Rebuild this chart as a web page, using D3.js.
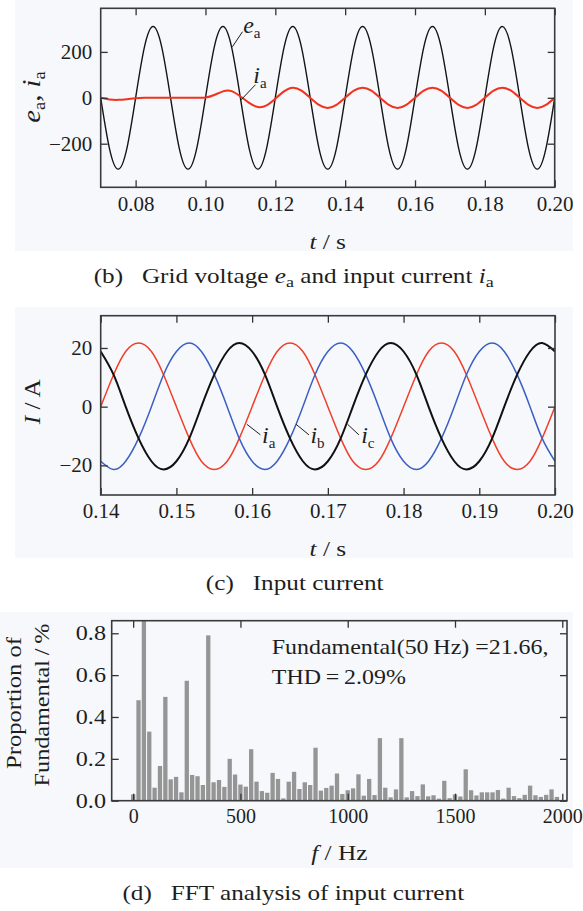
<!DOCTYPE html>
<html>
<head>
<meta charset="utf-8">
<title>Grid voltage, input current and FFT</title>
<script src="https://cdn.jsdelivr.net/npm/d3@7/dist/d3.min.js"></script>
<style>
  body { margin: 0; background: #fff; }
  svg { display: block; }
  text { font-family: "Liberation Serif", "Times New Roman", serif; fill: #1e1e1e; white-space: pre; }
  .tick line { stroke: #333; stroke-width: 1.3; }
  .frame { fill: none; stroke: #3a3a3a; stroke-width: 1.6; }
  .bg { fill: #f6f8fb; }
  .leader { stroke: #1e1e1e; stroke-width: 1; }
</style>
</head>
<body>
<svg id="fig" width="583" height="911"></svg>
<script>
var timeB = [0.07, 0.0725, 0.075, 0.0775, 0.08, 0.0825, 0.085, 0.0875,
  0.09, 0.0925, 0.095, 0.0975, 0.1, 0.1025, 0.105, 0.1075,
  0.11, 0.1125, 0.115, 0.1175, 0.12, 0.1225, 0.125, 0.1275,
  0.13, 0.1325, 0.135, 0.1375, 0.14, 0.1425, 0.145, 0.1475,
  0.15, 0.1525, 0.155, 0.1575, 0.16, 0.1625, 0.165, 0.1675,
  0.17, 0.1725, 0.175, 0.1775, 0.18, 0.1825, 0.185, 0.1875,
  0.19, 0.1925, 0.195, 0.1975, 0.2];
var voltageA = [0, -220, -311, -220, 0, 220, 311, 220,
  0, -220, -311, -220, 0, 220, 311, 220,
  0, -220, -311, -220, 0, 220, 311, 220,
  0, -220, -311, -220, 0, 220, 311, 220,
  0, -220, -311, -220, 0, 220, 311, 220,
  0, -220, -311, -220, 0, 220, 311, 220,
  0, -220, -311, -220, 0];
var currentStart = [0, -7, -9, -6, -2, 0, 0, 0,
  0, 0, 0, 0, 1, 12, 28, 29,
  6, -22, -40, -33, -4, 28, 44, 31,
  0, -31, -44, -31, 0, 31, 44, 31,
  0, -31, -44, -31, 0, 31, 44, 31,
  0, -31, -44, -31, 0, 31, 44, 31,
  0, -31, -44, -31, 0];

var timeC = [0.14, 0.1417, 0.1433, 0.145, 0.1467, 0.1483,
  0.15, 0.1517, 0.1533, 0.155, 0.1567, 0.1583,
  0.16, 0.1617, 0.1633, 0.165, 0.1667, 0.1683,
  0.17, 0.1717, 0.1733, 0.175, 0.1767, 0.1783,
  0.18, 0.1817, 0.1833, 0.185, 0.1867, 0.1883,
  0.19, 0.1917, 0.1933, 0.195, 0.1967, 0.1983,
  0.2];
var currentA = [0, 10.9, 18.8, 21.7, 18.8, 10.9, 0, -10.8, -18.6, -21.4, -18.6, -10.8,
  0, 10.9, 18.8, 21.7, 18.8, 10.9, 0, -10.8, -18.6, -21.4, -18.6, -10.8,
  0, 10.9, 18.8, 21.7, 18.8, 10.9, 0, -10.8, -18.6, -21.4, -18.6, -10.8,
  0];
var currentB = [-18.6, -21.4, -18.6, -10.8, 0, 10.9, 18.8, 21.7, 18.8, 10.9, 0, -10.8,
  -18.6, -21.4, -18.6, -10.8, 0, 10.9, 18.8, 21.7, 18.8, 10.9, 0, -10.8,
  -18.6, -21.4, -18.6, -10.8, 0, 10.9, 18.8, 21.7, 18.8, 10.9, 0, -10.8,
  -18.6];
var currentC = [18.8, 10.9, 0, -10.8, -18.6, -21.4, -18.6, -10.8, 0, 10.9, 18.8, 21.7,
  18.8, 10.9, 0, -10.8, -18.6, -21.4, -18.6, -10.8, 0, 10.9, 18.8, 21.7,
  18.8, 10.9, 0, -10.8, -18.6, -21.4, -18.6, -10.8, 0, 10.9, 18.8, 21.7,
  18.8];

// (d) FFT of input current, proportion of fundamental in %
var harmonicFreq = [0, 25, 50, 75, 100, 125, 150, 175, 200, 225,
  250, 275, 300, 325, 350, 375, 400, 425, 450, 475,
  500, 525, 550, 575, 600, 625, 650, 675, 700, 725,
  750, 775, 800, 825, 850, 875, 900, 925, 950, 975,
  1000, 1025, 1050, 1075, 1100, 1125, 1150, 1175, 1200, 1225,
  1250, 1275, 1300, 1325, 1350, 1375, 1400, 1425, 1450, 1475,
  1500, 1525, 1550, 1575, 1600, 1625, 1650, 1675, 1700, 1725,
  1750, 1775, 1800, 1825, 1850, 1875, 1900, 1925, 1950, 1975];
var harmonicPct = [0.03, 0.48, 100, 0.33, 0.062, 0.166, 0.496, 0.102, 0.114, 0.04,
  0.573, 0.123, 0.117, 0.075, 0.79, 0.088, 0.099, 0.066, 0.2, 0.125,
  0.077, 0.067, 0.246, 0.091, 0.046, 0.038, 0.133, 0.104, 0.011, 0.091,
  0.138, 0.056, 0.088, 0.075, 0.253, 0.048, 0.061, 0.072, 0.13, 0.032,
  0.05, 0.059, 0.126, 0.024, 0.104, 0.027, 0.299, 0.062, 0.016, 0.054,
  0.299, 0.016, 0.046, 0.022, 0.078, 0.021, 0.026, 0.01, 0.095, 0.012,
  0.03, 0.02, 0.15, 0.05, 0.025, 0.04, 0.04, 0.04, 0.051, 0.01,
  0.062, 0.022, 0.012, 0.028, 0.072, 0.026, 0.018, 0.028, 0.054, 0.018];

var ticksBx = [0.08, 0.10, 0.12, 0.14, 0.16, 0.18, 0.20];
var ticksBy = [-200, 0, 200];
var ticksCx = [0.14, 0.15, 0.16, 0.17, 0.18, 0.19, 0.20];
var ticksCy = [-20, 0, 20];
var ticksDx = [0, 500, 1000, 1500, 2000];
var ticksDy = [0, 0.2, 0.4, 0.6, 0.8];

var svg = d3.select('#fig');
var defs = svg.append('defs');

// text that is a bit wider than plain Times, like the scanned figure
function label(parent, x, y, size, sx, rotate) {
  return parent.append('text')
    .attr('transform', 'translate(' + x + ',' + y + ')' + (rotate ? ' rotate(-90)' : '') +
      ' scale(' + sx + ',1)')
    .style('font-size', size + 'px');
}

// parts: {s: string, it: italic, sub: subscript}
function rich(text, parts, subSize, shift) {
  var down = false;
  parts.forEach(function(p) {
    var ts = text.append('tspan').text(p.s);
    if (p.it) ts.style('font-style', 'italic');
    if (p.sub) {
      ts.attr('dy', shift).style('font-size', subSize + 'px');
      down = true;
    } else if (down) {
      ts.attr('dy', -shift);
      down = false;
    }
  });
  return text;
}

function clipTo(id, x, y) {
  defs.append('clipPath').attr('id', id).append('rect')
    .attr('x', x.range()[0]).attr('y', y.range()[1])
    .attr('width', x.range()[1] - x.range()[0])
    .attr('height', y.range()[0] - y.range()[1]);
}

function axes(g, x, y, xt, yt, xf, yf, o) {
  var x0 = x.range()[0], x1 = x.range()[1], y0 = y.range()[0], y1 = y.range()[1];
  var bottom = g.append('g').attr('transform', 'translate(0,' + y0 + ')')
    .call(d3.axisBottom(x).tickValues(xt).tickFormat(xf)
      .tickSizeInner(-7).tickSizeOuter(0).tickPadding(o.xPad));
  g.append('g').attr('transform', 'translate(0,' + y1 + ')')
    .call(d3.axisTop(x).tickValues(xt).tickFormat('').tickSizeInner(-7).tickSizeOuter(0));
  var left = g.append('g').attr('transform', 'translate(' + x0 + ',0)')
    .call(d3.axisLeft(y).tickValues(yt).tickFormat(yf)
      .tickSizeInner(-7).tickSizeOuter(0).tickPadding(o.yPad));
  g.append('g').attr('transform', 'translate(' + x1 + ',0)')
    .call(d3.axisRight(y).tickValues(yt).tickFormat('').tickSizeInner(-7).tickSizeOuter(0));
  g.selectAll('.domain').remove();
  bottom.selectAll('.tick text').style('font-size', o.sizeX + 'px')
    .attr('transform', 'scale(' + o.sxX + ',1)');
  left.selectAll('.tick text').style('font-size', o.sizeY + 'px')
    .attr('transform', 'scale(' + o.sxY + ',1)');
  g.append('rect').attr('class', 'frame')
    .attr('x', x0).attr('y', y1).attr('width', x1 - x0).attr('height', y0 - y1);
}

function leader(g, x, y, a, b) {
  g.append('line').attr('class', 'leader')
    .attr('x1', x(a[0])).attr('y1', y(a[1]))
    .attr('x2', x(b[0])).attr('y2', y(b[1]));
}

// ---------- (b) ----------
var gB = svg.append('g');
gB.append('rect').attr('class', 'bg').attr('x', 15).attr('y', 0).attr('width', 558).attr('height', 251);

var xB = d3.scaleLinear().domain([0.07, 0.20]).range([100.7, 554.7]);
var yB = d3.scaleLinear().domain([-390, 390]).range([187.3, 8.3]);
clipTo('clipB', xB, yB);

var lineB = d3.line()
  .x(function(d, i) { return xB(timeB[i]); })
  .y(function(d) { return yB(d); })
  .curve(d3.curveNatural);

var plotB = gB.append('g').attr('clip-path', 'url(#clipB)');
plotB.append('path').datum(voltageA).attr('d', lineB)
  .attr('fill', 'none').attr('stroke', '#151515').attr('stroke-width', 1.4);
plotB.append('path').datum(currentStart).attr('d', lineB)
  .attr('fill', 'none').attr('stroke', '#f2321e').attr('stroke-width', 2);

axes(gB, xB, yB, ticksBx, ticksBy, d3.format('.2f'), d3.format('d'),
  {xPad: 10, yPad: 8, sizeX: 20, sizeY: 20, sxX: 1.05, sxY: 1.05});

leader(gB, xB, yB, [0.1077, 222], [0.1106, 288]);
rich(label(gB, xB(0.1108), yB(282), 24, 1, false),
  [{s: 'e', it: true}, {s: 'a', sub: true}], 15, 5);
leader(gB, xB, yB, [0.1102, -9], [0.1143, 57]);
rich(label(gB, xB(0.1137), yB(64), 24, 1, false),
  [{s: 'i', it: true}, {s: 'a', sub: true}], 15, 5);

rich(label(gB, 40, 97, 25, 1.15, true).attr('text-anchor', 'middle'),
  [{s: 'e', it: true}, {s: 'a', sub: true}, {s: ', '}, {s: 'i', it: true}, {s: 'a', sub: true}], 16, 5);
rich(label(gB, 327.7, 249, 22, 1.15, false).attr('text-anchor', 'middle'),
  [{s: 't', it: true}, {s: ' / s'}], 14, 5);
rich(label(svg, 293.7, 283, 21, 1.2, false).attr('text-anchor', 'middle'),
  [{s: '(b)\u2002 Grid voltage '}, {s: 'e', it: true}, {s: 'a', sub: true},
   {s: ' and input current '}, {s: 'i', it: true}, {s: 'a', sub: true}], 15, 4);

// ---------- (c) ----------
var gC = svg.append('g');
gC.append('rect').attr('class', 'bg').attr('x', 15).attr('y', 307).attr('width', 558).attr('height', 251);

var xC = d3.scaleLinear().domain([0.14, 0.20]).range([100.7, 555]);
var yC = d3.scaleLinear().domain([-30.1, 31]).range([495, 315.7]);
clipTo('clipC', xC, yC);

var lineC = d3.line()
  .x(function(d, i) { return xC(timeC[i]); })
  .y(function(d) { return yC(d); })
  .curve(d3.curveNatural);

var plotC = gC.append('g').attr('clip-path', 'url(#clipC)');
[[currentA, '#f0402b', 1.5], [currentB, '#3c5fc4', 1.5], [currentC, '#111', 2]].forEach(function(s) {
  plotC.append('path').datum(s[0]).attr('d', lineC)
    .attr('fill', 'none').attr('stroke', s[1]).attr('stroke-width', s[2]);
});

axes(gC, xC, yC, ticksCx, ticksCy, d3.format('.2f'), d3.format('d'),
  {xPad: 9, yPad: 8, sizeX: 20, sizeY: 20, sxX: 1.05, sxY: 1.05});

[['a', 0.1593, 0.1611, 0.1613], ['b', 0.1658, 0.1675, 0.1677], ['c', 0.1726, 0.1741, 0.1744]].forEach(function(l) {
  leader(gC, xC, yC, [l[1], -6], [l[2], -9.6]);
  rich(label(gC, xC(l[3]), yC(-12.4), 24, 1, false),
    [{s: 'i', it: true}, {s: l[0], sub: true}], 15, 5);
});

rich(label(gC, 40, 401.7, 23, 1.1, true).attr('text-anchor', 'middle'),
  [{s: 'I', it: true}, {s: ' / A'}], 14, 5);
rich(label(gC, 327.8, 556, 22, 1.15, false).attr('text-anchor', 'middle'),
  [{s: 't', it: true}, {s: ' / s'}], 14, 5);
label(svg, 294.7, 590, 21, 1.2, false).attr('text-anchor', 'middle')
  .text('(c)\u2002 Input current');

// ---------- (d) ----------
var gD = svg.append('g');
gD.append('rect').attr('class', 'bg').attr('x', 0).attr('y', 612).attr('width', 573).attr('height', 256);

var xD = d3.scaleLinear().domain([-100, 2022]).range([111.7, 567]);
var yD = d3.scaleLinear().domain([0, 0.86]).range([800.7, 620.7]);
clipTo('clipD', xD, yD);

var barW = 4.3;
gD.append('g').attr('clip-path', 'url(#clipD)')
  .selectAll('rect').data(harmonicPct).join('rect')
  .attr('x', function(d, i) { return xD(harmonicFreq[i]) - barW / 2; })
  .attr('y', function(d) { return yD(Math.min(d, 1)); })
  .attr('width', barW)
  .attr('height', function(d) { return yD(0) - yD(Math.min(d, 1)); })
  .attr('fill', '#959595');

axes(gD, xD, yD, ticksDx, ticksDy, d3.format('d'), d3.format('.1f'),
  {xPad: 8, yPad: 5, sizeX: 20, sizeY: 21, sxX: 1.0, sxY: 1.15});

label(gD, 271.8, 654, 21, 1.14, false).text('Fundamental(50\u2009Hz) =21.66,');
label(gD, 271.8, 684, 21, 1.14, false).text('THD\u2009=\u20092.09%');

label(gD, 20.7, 703, 22, 1.12, true).attr('text-anchor', 'middle').text('Proportion of');
label(gD, 49.3, 705, 22, 1.1, true).attr('text-anchor', 'middle').text('Fundamental\u2009/\u2009%');
rich(label(gD, 339.3, 860, 22, 1.15, false).attr('text-anchor', 'middle'),
  [{s: 'f', it: true}, {s: ' / Hz'}], 14, 5);
label(svg, 293.3, 900, 21, 1.2, false).attr('text-anchor', 'middle')
  .text('(d)\u2002 FFT analysis of input current');
</script>
</body>
</html>
